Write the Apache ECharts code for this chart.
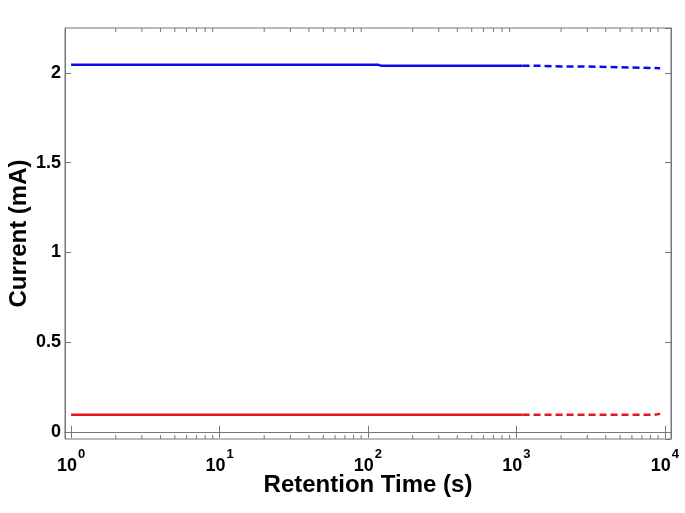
<!DOCTYPE html>
<html>
<head>
<meta charset="utf-8">
<script src="https://cdn.jsdelivr.net/npm/echarts@6/dist/echarts.min.js"></script>
<style>
  html, body { margin: 0; padding: 0; background: #fff; }
  #chart { width: 685px; height: 513px; }
</style>
</head>
<body>
<div id="chart"></div>
<script>
// retention time (s) and current (mA)
const blueSolidTime = [1, 118, 122, 780, 800, 830, 1100];
const blueSolidCurrent = [2.045, 2.045, 2.04, 2.04, 2.043, 2.04, 2.04];
const blueDashTime = [1100, 1500, 2000, 3000, 4000, 6000, 9300];
const blueDashCurrent = [2.04, 2.039, 2.036, 2.035, 2.033, 2.03, 2.026];

const redSolidTime = [1, 1100];
const redSolidCurrent = [0.095, 0.095];
const redDashTime = [1100, 8500, 9300];
const redDashCurrent = [0.095, 0.095, 0.1];

// minor ticks of the log axis (2..9 of each decade)
const minorTickTime = [];
[1, 10, 100, 1000].forEach((d) => {
    for (let k = 2; k <= 9; k++) minorTickTime.push(k * d);
});

const X_MIN = 0.91;
const X_MAX = 11000;
const Y_MIN = -0.04;
const Y_MAX = 2.25;

const BLUE = '#0b0bea';
const RED = '#e8161e';
const AXIS = '#777';
const FONT = '"Liberation Sans", Arial, sans-serif';

const zip = (a, b) => a.map((v, i) => [v, b[i]]);

const chart = echarts.init(document.getElementById('chart'));

const lineSeries = (name, t, c, color, type) => ({
    name,
    type: 'line',
    data: zip(t, c),
    showSymbol: false,
    symbol: 'none',
    lineStyle: { color, width: 2.5, type: type === 'dashed' ? [7, 4] : 'solid' },
    z: 3,
});

chart.setOption({
    animation: false,
    backgroundColor: '#fff',
    grid: {
        left: 65, right: 14, top: 28, bottom: 74,
        outerBoundsMode: 'none',
        containLabel: false,
        show: true, borderColor: AXIS, borderWidth: 1,
    },
    xAxis: [{
        type: 'log',
        logBase: 10,
        min: X_MIN,
        max: X_MAX,
        name: 'Retention Time (s)',
        nameLocation: 'middle',
        nameGap: 34,
        nameMoveOverlap: false,
        nameTextStyle: { fontFamily: FONT, fontWeight: 'bold', fontSize: 24, color: '#000' },
        axisLine: { lineStyle: { color: AXIS } },
        axisTick: { inside: true, length: 6, lineStyle: { color: AXIS } },
        splitLine: { show: false },
        axisLabel: {
            showMinLabel: false,
            showMaxLabel: false,
            margin: 9,
            formatter: (v) => '{b|10}{s|' + Math.round(Math.log10(v)) + '}',
            rich: {
                b: { fontFamily: FONT, fontWeight: 'bold', fontSize: 18, color: '#000', verticalAlign: 'bottom' },
                s: { fontFamily: FONT, fontWeight: 'bold', fontSize: 13, color: '#000', verticalAlign: 'top', padding: [0, 0, 14, 1] },
            },
        },
    }, {
        type: 'log',
        logBase: 10,
        min: X_MIN,
        max: X_MAX,
        position: 'top',
        axisLine: { lineStyle: { color: AXIS } },
        axisTick: { inside: true, length: 6, lineStyle: { color: AXIS } },
        axisLabel: { show: false },
        splitLine: { show: false },
    }],
    yAxis: [{
        type: 'value',
        min: Y_MIN,
        max: Y_MAX,
        name: 'Current (mA)',
        nameLocation: 'middle',
        nameGap: 34,
        nameMoveOverlap: false,
        nameTextStyle: { fontFamily: FONT, fontWeight: 'bold', fontSize: 24, color: '#000' },
        axisLine: { show: true, lineStyle: { color: AXIS } },
        axisTick: { show: true, inside: true, length: 6, lineStyle: { color: AXIS } },
        splitLine: { show: false },
        axisLabel: {
            showMinLabel: false,
            showMaxLabel: false,
            margin: 4,
            fontFamily: FONT,
            fontWeight: 'bold',
            fontSize: 18,
            color: '#000',
        },
    }, {
        type: 'value',
        min: Y_MIN,
        max: Y_MAX,
        position: 'right',
        axisLine: { show: true, lineStyle: { color: AXIS } },
        axisTick: { show: true, inside: true, length: 6, lineStyle: { color: AXIS } },
        axisLabel: { show: false },
        splitLine: { show: false },
    }],
    series: [
        lineSeries('blue-solid', blueSolidTime, blueSolidCurrent, BLUE, 'solid'),
        lineSeries('blue-dash', blueDashTime, blueDashCurrent, BLUE, 'dashed'),
        lineSeries('red-solid', redSolidTime, redSolidCurrent, RED, 'solid'),
        lineSeries('red-dash', redDashTime, redDashCurrent, RED, 'dashed'),
        {
            // minor ticks on bottom and top edges
            type: 'custom',
            data: minorTickTime.map((t) => [t]),
            silent: true,
            clip: false,
            z: 1,
            renderItem: (params, api) => {
                const t = api.value(0);
                const b = api.coord([t, Y_MIN]);
                const top = api.coord([t, Y_MAX]);
                const style = { stroke: AXIS, lineWidth: 1 };
                return {
                    type: 'group',
                    children: [
                        { type: 'line', shape: { x1: b[0], y1: b[1], x2: b[0], y2: b[1] - 4 }, style },
                        { type: 'line', shape: { x1: top[0], y1: top[1], x2: top[0], y2: top[1] + 4 }, style },
                    ],
                };
            },
        },
    ],
});
</script>
</body>
</html>
